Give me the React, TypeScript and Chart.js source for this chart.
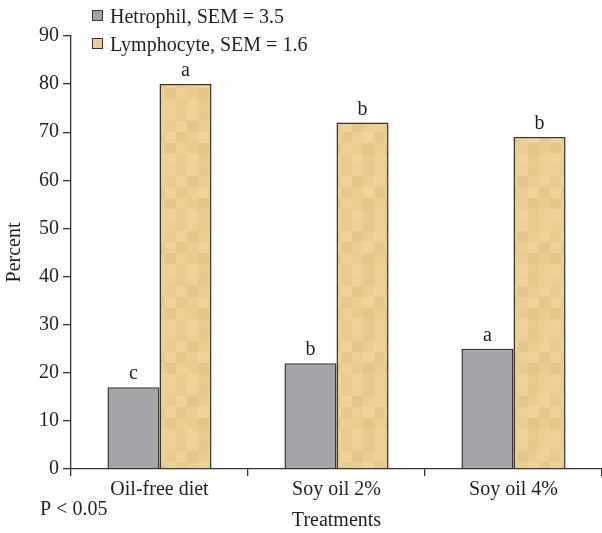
import React, { useEffect, useRef } from "react";
import { Chart, registerables } from "chart.js";
Chart.register(...registerables);

const categories = ["Oil-free diet", "Soy oil 2%", "Soy oil 4%"];
const heterophil = [17, 22, 25];
const lymphocyte = [80, 72, 69];
const heterophilLetters = ["c", "b", "a"];
const lymphocyteLetters = ["a", "b", "b"];
const seriesNames = ["Hetrophil, SEM = 3.5", "Lymphocyte, SEM = 1.6"];
const yMin = 0;
const yMax = 90;
const yStep = 10;
const xTitle = "Treatments";
const yTitle = "Percent";
const note = "P < 0.05";

const FONT = "'Liberation Serif', 'Times New Roman', serif";
const FS = 20;
const GREY = "#a4a5a9";
const TAN = "#ecce93";
const EDGE = "#3b332b";
const TEXT = "#231f20";

function makeTanPattern(): CanvasPattern | string {
  const shades = [
    ["#ecce93", "#e9cb8f", "#eed096", "#e8c98d", "#edcf94"],
    ["#e9cb8f", "#efd298", "#e6c78b", "#ebcd92", "#eecf95"],
    ["#efd197", "#e8c98d", "#eccd92", "#f0d39a", "#e7c88c"],
    ["#e6c78a", "#edcf94", "#eacb90", "#e5c689", "#ebcd91"],
    ["#eed096", "#eaca8f", "#efd298", "#e9ca8e", "#eccf94"],
  ];
  const b = 11;
  const n = shades.length;
  const c = document.createElement("canvas");
  c.width = b * n;
  c.height = b * n;
  const ctx = c.getContext("2d");
  if (!ctx) return TAN;
  for (let r = 0; r < n; r++) {
    for (let k = 0; k < n; k++) {
      ctx.fillStyle = shades[r][k];
      ctx.fillRect(k * b, r * b, b, b);
    }
  }
  return ctx.createPattern(c, "repeat") || TAN;
}

const annotationPlugin = {
  id: "annotations",
  afterDatasetsDraw(chart: any) {
    const ctx = chart.ctx;
    ctx.save();
    ctx.fillStyle = TEXT;
    ctx.font = `${FS}px ${FONT}`;
    ctx.textAlign = "center";
    ctx.textBaseline = "alphabetic";
    const letterSets = [heterophilLetters, lymphocyteLetters];
    chart.data.datasets.forEach((_ds: any, di: number) => {
      const meta = chart.getDatasetMeta(di);
      meta.data.forEach((el: any, i: number) => {
        ctx.fillText(letterSets[di][i], el.x, el.y - 8);
      });
    });
    ctx.restore();
  },
  afterDraw(chart: any) {
    const ctx = chart.ctx;
    ctx.save();
    const fills = [GREY, TAN];
    const boxX = 92;
    const boxYs = [10, 38];
    ctx.font = `${FS}px ${FONT}`;
    ctx.textAlign = "left";
    ctx.textBaseline = "alphabetic";
    seriesNames.forEach((name, i) => {
      ctx.fillStyle = fills[i];
      ctx.fillRect(boxX, boxYs[i], 11, 11);
      ctx.strokeStyle = EDGE;
      ctx.lineWidth = 1;
      ctx.strokeRect(boxX + 0.5, boxYs[i] + 0.5, 10, 10);
      ctx.fillStyle = TEXT;
      ctx.fillText(name, 110, boxYs[i] + 13);
    });
    ctx.fillText(note, 40, 515);
    ctx.restore();
  },
};

export default function App() {
  const ref = useRef<HTMLCanvasElement>(null);
  useEffect(() => {
    if (!ref.current) return;
    const tan = makeTanPattern();
    const chart = new Chart(ref.current, {
      type: "bar",
      data: {
        labels: categories,
        datasets: [
          {
            label: seriesNames[0],
            data: heterophil,
            backgroundColor: GREY,
            borderColor: EDGE,
            borderWidth: 1.5,
            categoryPercentage: 0.588,
            barPercentage: 1,
          },
          {
            label: seriesNames[1],
            data: lymphocyte,
            backgroundColor: tan as any,
            borderColor: EDGE,
            borderWidth: 1.5,
            categoryPercentage: 0.588,
            barPercentage: 1,
          },
        ],
      },
      options: {
        animation: false,
        responsive: false,
        maintainAspectRatio: false,
        layout: { padding: { top: 36, right: 0, left: 0, bottom: 0 } },
        plugins: {
          legend: { display: false },
          tooltip: { enabled: false },
        },
        scales: {
          x: {
            offset: true,
            grid: {
              offset: true,
              drawOnChartArea: false,
              drawTicks: true,
              tickLength: 7,
              color: "#333",
              lineWidth: 1.3,
            },
            border: { color: "#333", width: 1.3 },
            ticks: {
              color: TEXT,
              font: { family: FONT, size: FS },
              padding: 2,
              maxRotation: 0,
            },
            title: {
              display: true,
              text: xTitle,
              color: TEXT,
              font: { family: FONT, size: FS },
              padding: { top: 0, bottom: 0 },
            },
            afterFit(scale: any) {
              scale.height = 64;
            },
          },
          y: {
            min: yMin,
            max: yMax,
            grid: {
              drawOnChartArea: false,
              drawTicks: true,
              tickLength: 8,
              color: "#333",
              lineWidth: 1.3,
            },
            border: { color: "#333", width: 1.3 },
            ticks: {
              stepSize: yStep,
              color: TEXT,
              font: { family: FONT, size: FS },
              padding: 4,
            },
            title: {
              display: true,
              text: yTitle,
              color: TEXT,
              font: { family: FONT, size: FS },
              padding: { top: 3, bottom: 0 },
            },
            afterFit(scale: any) {
              scale.width = 71;
            },
          },
        },
      },
      plugins: [annotationPlugin],
    });
    return () => chart.destroy();
  }, []);
  return (
    <div style={{ position: "fixed", left: 0, top: 0, width: 602, height: 533, background: "#fff" }}>
      <canvas ref={ref} width={602} height={533} style={{ display: "block" }} />
    </div>
  );
}
